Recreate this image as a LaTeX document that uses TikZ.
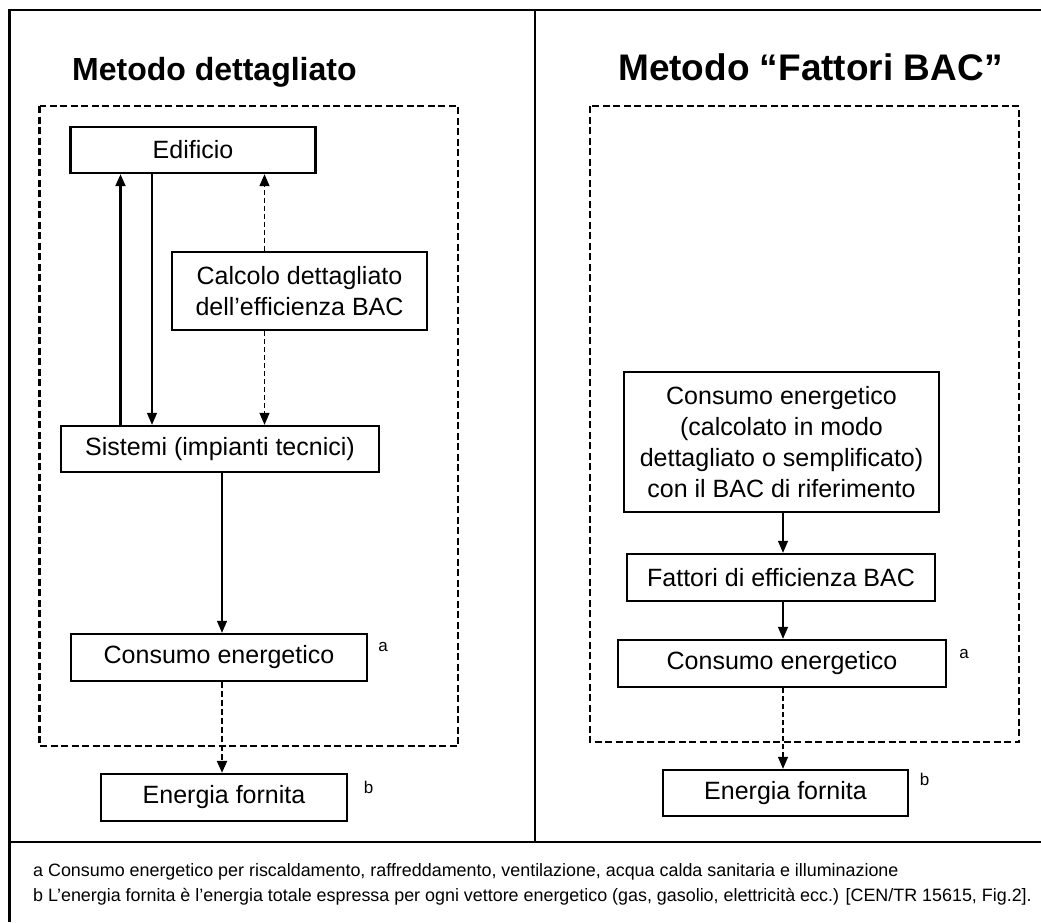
\documentclass[tikz,border=0pt]{standalone}
\usepackage{fontspec}
\setmainfont{Liberation Sans}
\usetikzlibrary{arrows.meta}

\begin{document}
\begin{tikzpicture}[
            x=1pt, y=-1pt,
            box/.style={draw, line width=2.4pt, inner sep=0pt, align=center,
                font=\fontsize{25}{31}\selectfont},
            frame/.style={line width=2.6pt},
            area/.style={line width=2.2pt, dash pattern=on 7pt off 3.5pt},
            arr/.style={-{Triangle[length=12pt,width=10pt]}, line width=1.3pt},
            darr/.style={arr, dash pattern=on 5pt off 3pt},
            title/.style={anchor=base west, inner sep=0pt},
            note/.style={anchor=base west, inner sep=0pt, font=\fontsize{17.9}{20}\selectfont},
            sup/.style={inner sep=0pt, font=\fontsize{17}{20}\selectfont}
        ]
            \useasboundingbox (0,0) rectangle (1041,922);
            \draw[frame] (9.5,922) -- (9.5,10) -- (1041,10);
            \draw[frame] (535,10) -- (535,842);
            \draw[frame] (9.5,842) -- (1041,842);
            \draw[area] (39.5,106) rectangle (458,746);
            \draw[area] (590,106) rectangle (1019,742);

            \node[title, font=\fontsize{32}{38}\selectfont\bfseries] (tdet) at (72,80) {Metodo dettagliato};
            \node[title, font=\fontsize{37}{44}\selectfont\bfseries] (tbac) at (618,80) {Metodo “Fattori BAC”};

            \node[box, minimum width=245pt, minimum height=46pt] (edificio) at (193,150) {Edificio};
            \node[box, minimum width=255pt, minimum height=78pt] (calcolo) at (299.5,291) {Calcolo dettagliato\\dell’efficienza BAC};
            \node[box, minimum width=318pt, minimum height=46pt] (sistemi) at (220,449) {Sistemi (impianti tecnici)};
            \node[box, minimum width=296pt, minimum height=47pt] (consdet) at (219,657.5) {Consumo energetico};
            \node[box, minimum width=246pt, minimum height=47pt] (endet) at (224,797.5) {Energia fornita};

            \node[box, minimum width=315pt, minimum height=140pt] (consrif) at (781.5,442) {Consumo energetico\\(calcolato in modo\\dettagliato o semplificato)\\con il BAC di riferimento};
            \node[box, minimum width=308pt, minimum height=47pt] (fattori) at (781,577.5) {Fattori di efficienza BAC};
            \node[box, minimum width=328pt, minimum height=47pt] (consbac) at (782,663.5) {Consumo energetico};
            \node[box, minimum width=245pt, minimum height=46pt] (enbac) at (785.5,793) {Energia fornita};

            \node[sup] (adet) at (383,647) {a};
            \node[sup] (bdet) at (368.5,787.5) {b};
            \node[sup] (abac) at (964,653.5) {a};
            \node[sup] (bbac) at (924.5,779) {b};

            \coordinate (xup) at (120.5,0);
            \coordinate (xdown) at (152,0);
            \coordinate (xcalc) at (264.5,0);
            \coordinate (xsys) at (222,0);
            \coordinate (xbac) at (783,0);

            \draw[arr, line width=2.2pt] (sistemi.north -| xup) -- (edificio.south -| xup);
            \draw[arr] (edificio.south -| xdown) -- (sistemi.north -| xdown);
            \draw[darr] (calcolo.north -| xcalc) -- (edificio.south -| xcalc);
            \draw[darr] (calcolo.south -| xcalc) -- (sistemi.north -| xcalc);
            \draw[arr] (sistemi.south -| xsys) -- (consdet.north -| xsys);
            \draw[arr, line width=2.2pt, dash pattern=on 6pt off 3pt] (consdet.south -| xsys) -- (endet.north -| xsys);

            \draw[arr] (consrif.south -| xbac) -- (fattori.north -| xbac);
            \draw[arr] (fattori.south -| xbac) -- (consbac.north -| xbac);
            \draw[darr] (consbac.south -| xbac) -- (enbac.north -| xbac);

            \node[note] (nota) at (33,876) {a Consumo energetico per riscaldamento, raffreddamento, ventilazione, acqua calda sanitaria e illuminazione};
            \node[note] (notb) at (33,901) {b L’energia fornita è l’energia totale espressa per ogni vettore energetico (gas, gasolio, elettricità ecc.) [CEN/TR 15615, Fig.2].};
        \end{tikzpicture}
\end{document}
